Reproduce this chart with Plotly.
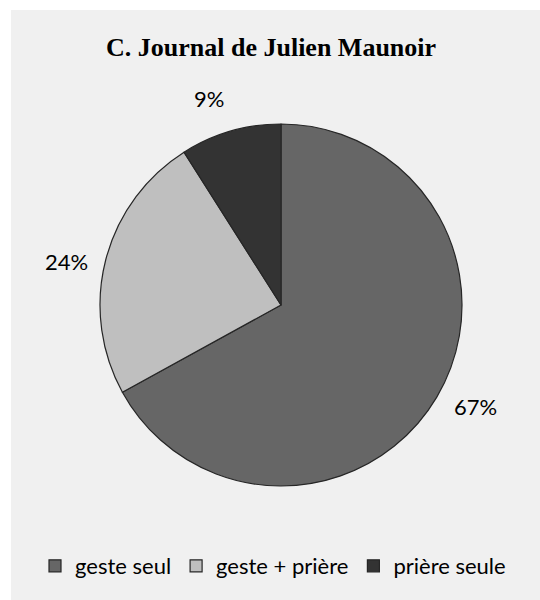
import math
import plotly.graph_objects as go

labels = ["geste seul", "geste + prière", "prière seule"]
values = [67, 24, 9]
colors = ["#666666", "#bfbfbf", "#333333"]

W, H = 540, 600
cx, cy, R = 281, 305, 181  # pixel geometry of the pie

fig = go.Figure(go.Pie(
    labels=labels, values=values, sort=False, direction="clockwise", rotation=0,
    marker=dict(colors=colors, line=dict(color="#262626", width=1.2)),
    textinfo="none", hoverinfo="label+percent",
    domain=dict(x=[(cx - R) / W, (cx + R) / W], y=[(H - cy - R) / H, (H - cy + R) / H]),
))

# percentage labels placed outside each slice, from the slice's mid-angle
total = sum(values)
cum = 0
anns = []
for v in values:
    mid = (cum + v / 2) / total * 2 * math.pi - math.radians(3)
    cum += v
    r = R * 1.21
    px = cx + r * math.sin(mid)
    py = cy - r * math.cos(mid)
    anns.append(dict(x=px / W, y=1 - py / H, xref="paper", yref="paper",
                     xanchor="center", yanchor="middle",
                     text=f"{round(v / total * 100)}%", showarrow=False,
                     font=dict(family="Lato, Open Sans, sans-serif", size=22, color="#000")))

anns.append(dict(x=271 / W, y=1 - 47 / H, xref="paper", yref="paper",
                 xanchor="center", yanchor="middle",
                 text="<b>C. Journal de Julien Maunoir</b>", showarrow=False,
                 font=dict(family="Liberation Serif, Times New Roman, serif", size=26, color="#000")))

fig.update_layout(
    width=W, height=H, margin=dict(l=0, r=0, t=0, b=0),
    paper_bgcolor="white",
    showlegend=True,
    legend=dict(orientation="h", x=273 / W, xanchor="center", y=1 - 566 / H, yanchor="middle",
                font=dict(family="Lato, Open Sans, sans-serif", size=22, color="#000"),
                itemwidth=30, tracegroupgap=0, bgcolor="rgba(0,0,0,0)"),
    annotations=anns,
    shapes=[dict(type="rect", xref="paper", yref="paper", x0=11 / W, x1=1, y0=0, y1=1 - 10 / H,
                 fillcolor="#f0f0f0", line=dict(width=0), layer="below")],
)

fig.write_html("out.html", config={"displayModeBar": False},
               post_script="document.body.style.margin='0';")
